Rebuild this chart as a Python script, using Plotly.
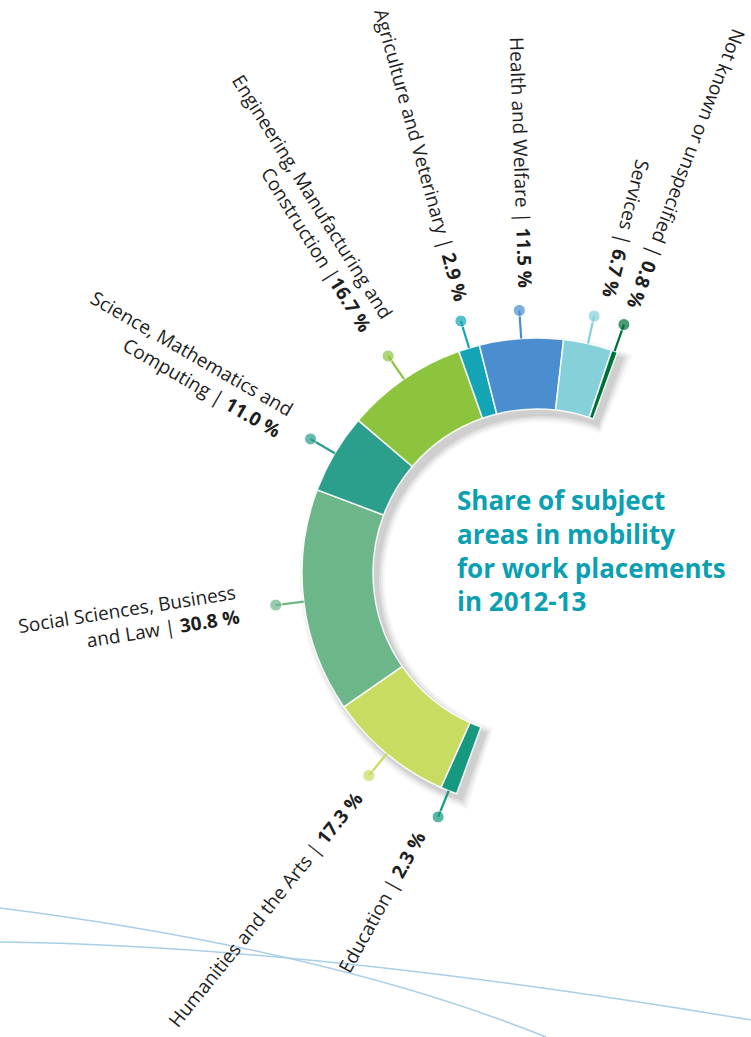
import math
import numpy as np
import plotly.graph_objects as go

# ---------------- data ----------------
categories = [
    "Education",
    "Humanities and the Arts",
    "Social Sciences, Business and Law",
    "Science, Mathematics and Computing",
    "Engineering, Manufacturing and Construction",
    "Agriculture and Veterinary",
    "Health and Welfare",
    "Services",
    "Not known or unspecified",
]
shares = [2.3, 17.3, 30.8, 11.0, 16.7, 2.9, 11.5, 6.7, 0.8]
label_lines = [
    ["Education |"],
    ["Humanities and the Arts |"],
    ["Social Sciences, Business", "and Law |"],
    ["Science, Mathematics and", "Computing |"],
    ["Engineering, Manufacturing and", "Construction |"],
    ["Agriculture and Veterinary |"],
    ["Health and Welfare |"],
    ["Services |"],
    ["Not known or unspecified |"],
]
title_lines = ["Share of subject", "areas in mobility", "for work placements", "in 2012-13"]

# ---------------- style ----------------
colors = ["#17997f", "#c9dc62", "#6db68a", "#2b9e8c", "#8cc43e",
          "#13a5b5", "#4a8ecf", "#86d0da", "#00703a"]
TEXT = "#1e1e1e"
TITLE = "#0aa0b2"
FONT = "Open Sans"

W, H = 751, 1037
CX, CY = 537, 573          # ring centre (px)
R_OUT_PX, R_IN_PX = 235, 164
R_POL_PX = 270             # polar area radius (px)
DOT_R = 1.12               # leader dot radius (outer ring = 1)
START_ANGLE, SPAN = 250, 180
SECTOR = [66, 254]

R_IN = R_IN_PX / R_OUT_PX
R1 = R_POL_PX / R_OUT_PX
R0 = 0.55
HOLE = R0 / R1

# label centres (px) and rotation (deg, clockwise)
label_pos = [(382, 902), (265, 910), (129, 621), (186, 364), (301, 203),
             (421, 155), (521, 162), (626, 228), (686, 169)]
label_rot = [-61, -51, -9, 30, 58, 74.5, 88, 104, 111]


def sector_bbox(s0, s1):
    angs = [s0, s1] + [a for a in (0, 90, 180, 270, 360) if s0 <= a <= s1]
    xs = [0] + [math.cos(math.radians(a)) for a in angs]
    ys = [0] + [math.sin(math.radians(a)) for a in angs]
    return min(xs), max(xs), min(ys), max(ys)


xmn, xmx, ymn, ymx = sector_bbox(*SECTOR)
dom_x = [(CX + R_POL_PX * xmn) / W, (CX + R_POL_PX * xmx) / W]
dom_y = [1 - (CY - R_POL_PX * ymn) / H, 1 - (CY - R_POL_PX * ymx) / H]

# ---------------- geometry from data ----------------
vals = np.array(shares)
cum = np.concatenate([[0], np.cumsum(vals)[:-1]])
scale = SPAN / vals.sum()
theta_c = (cum + vals / 2) * scale
widths = vals * scale

fig = go.Figure()

# soft drop shadow (offset subplot)
for e, a in zip([1, 3, 5, 7], [0.08, 0.07, 0.05, 0.04]):
    de = e / R_OUT_PX
    dth = math.degrees(e / ((R_OUT_PX + R_IN_PX) / 2))
    fig.add_trace(go.Barpolar(
        r=[(1 - R_IN) + 2 * de], base=[R_IN - de], theta=[SPAN / 2],
        width=[SPAN + 2 * dth], marker=dict(color=f"rgba(40,40,40,{a})", line=dict(width=0)),
        subplot="polar", hoverinfo="skip", showlegend=False))

# leader lines with dots
for i, c in enumerate(categories):
    fig.add_trace(go.Scatterpolar(
        r=[1.0, DOT_R], theta=[theta_c[i], theta_c[i]], mode="lines+markers",
        line=dict(color=colors[i], width=2.2),
        marker=dict(size=[0, 12], color=colors[i]),
        subplot="polar2", cliponaxis=False, hoverinfo="skip", showlegend=False))

# ring segments
fig.add_trace(go.Barpolar(
    r=[1 - R_IN] * len(vals), base=[R_IN] * len(vals), theta=theta_c, width=widths,
    marker=dict(color=colors, line=dict(color="rgba(255,255,255,0.9)", width=1.5)),
    text=categories, hoverinfo="text", subplot="polar2", showlegend=False))

polar_common = dict(
    sector=SECTOR, hole=HOLE, bgcolor="rgba(0,0,0,0)",
    radialaxis=dict(range=[R0, R1], visible=False, showgrid=False),
    angularaxis=dict(visible=False, showgrid=False, direction="clockwise",
                     rotation=START_ANGLE, thetaunit="degrees"),
)
sx, sy = 5 / W, 6 / H

annotations = []
for i in range(len(categories)):
    lines = list(label_lines[i])
    sep = "" if categories[i].startswith("Engineering") else " "
    lines[-1] = lines[-1] + sep + f"<b>{shares[i]:.1f} %</b>"
    px, py = label_pos[i]
    annotations.append(dict(
        x=px / W, y=1 - py / H, xref="paper", yref="paper",
        text="<br>".join(lines), showarrow=False, textangle=label_rot[i],
        xanchor="center", yanchor="middle", align="right",
        font=dict(family=FONT, size=19, color=TEXT)))

annotations.append(dict(
    x=455 / W, y=1 - 480 / H, xref="paper", yref="paper",
    text="<br>".join(f"<b>{t}</b>" for t in title_lines), showarrow=False,
    xanchor="left", yanchor="top", align="left",
    font=dict(family=FONT, size=26, color=TITLE)))


def P(x, y):
    return f"{x / W:.5f},{1 - y / H:.5f}"


shapes = [
    dict(type="path", xref="paper", yref="paper", layer="below",
         path=f"M {P(0, 908)} Q {P(330, 950)} {P(546, 1037)}",
         line=dict(color="#a9cfe8", width=1.5)),
    dict(type="path", xref="paper", yref="paper", layer="below",
         path=f"M {P(0, 942)} Q {P(300, 945)} {P(751, 1020)}",
         line=dict(color="#a9cfe8", width=1.5)),
]

fig.update_layout(
    width=W, height=H, autosize=False,
    margin=dict(l=0, r=0, t=0, b=0),
    paper_bgcolor="white", plot_bgcolor="white",
    polar=dict(domain=dict(x=[dom_x[0] + sx, dom_x[1] + sx], y=[dom_y[0] - sy, dom_y[1] - sy]),
               **polar_common),
    polar2=dict(domain=dict(x=dom_x, y=dom_y), **polar_common),
    annotations=annotations, shapes=shapes, showlegend=False,
)

fig.write_html("out.html", config={"displayModeBar": False},
               post_script="document.body.style.margin='0px';")
